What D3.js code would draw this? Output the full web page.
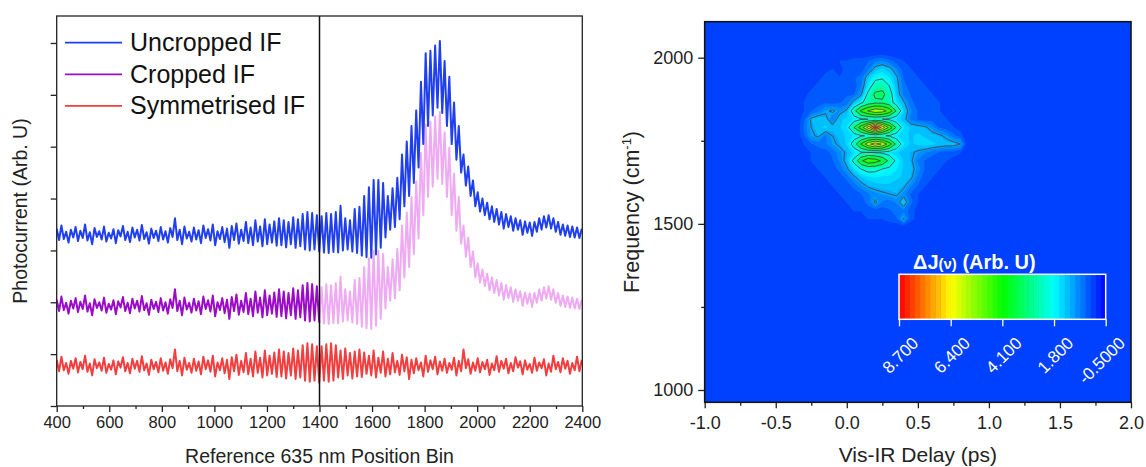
<!DOCTYPE html>
<html>
<head>
<meta charset="utf-8">
<script src="https://cdn.jsdelivr.net/npm/d3@7"></script>
<style>
    body { margin: 0; background: #fff; }
    svg text { font-family: Arial, "Liberation Sans", sans-serif; }
</style>
</head>
<body>
<svg id="chart" width="1146" height="467"></svg>
<script>
// ---- left panel data: uncropped interferogram, one value every 9 bins from bin 400
let binStart = 400, binStep = 9
let uncropped = [
    3.42, 3.20, 3.48, 3.22, 3.36, 3.15, 3.40, 3.25, 3.45, 3.18,
    3.38, 3.24, 3.50, 3.19, 3.35, 3.12, 3.43, 3.26, 3.37, 3.21,
    3.46, 3.17, 3.34, 3.23, 3.41, 3.14, 3.39, 3.27, 3.47, 3.20,
    3.36, 3.16, 3.44, 3.25, 3.40, 3.19, 3.49, 3.22, 3.35, 3.13,
    3.42, 3.24, 3.38, 3.18, 3.45, 3.21, 3.37, 3.15, 3.43, 3.26,
    3.62, 3.20, 3.40, 3.12, 3.46, 3.23, 3.36, 3.17, 3.44, 3.21,
    3.39, 3.14, 3.48, 3.24, 3.41, 3.19, 3.50, 3.10, 3.37, 3.22,
    3.45, 3.16, 3.42, 3.05, 3.47, 3.20, 3.52, 3.13, 3.40, 3.18,
    3.55, 3.14, 3.44, 3.10, 3.58, 3.17, 3.46, 3.08, 3.60, 3.12,
    3.50, 3.15, 3.56, 3.09, 3.62,
    3.10, 3.58, 3.06, 3.55, 3.12, 3.64, 3.05, 3.60, 3.08, 3.70, 3.02, 3.74, 3.00, 3.72, 3.02, 3.68,
    2.98,
    3.66, 2.96, 3.72, 2.95, 3.70, 2.97, 3.74, 2.96, 3.86, 3.00, 3.62, 3.02, 3.58, 2.98, 3.80, 2.95, 3.84,
    2.90, 4.05, 2.87, 4.22, 2.86, 4.36, 2.92, 4.36, 3.05, 4.30, 3.25, 4.05, 3.40,
    4.20, 3.45, 4.40, 3.60, 4.85, 3.85, 5.10, 4.05, 5.40, 4.30,
    5.70, 4.60, 6.25, 5.05, 6.80, 5.40, 6.85, 5.60, 6.95, 5.75,
    7.04, 5.65, 6.65, 5.40, 6.35, 5.05, 5.85, 4.75, 5.40, 4.50,
    4.85, 4.25, 4.62, 4.05, 4.35, 3.85, 4.12,
    3.75, 4.00, 3.68, 3.92, 3.60, 3.85, 3.55, 3.80, 3.50, 3.74,
    3.42, 3.70, 3.45, 3.66, 3.38, 3.62, 3.40, 3.58, 3.30, 3.56,
    3.34, 3.54, 3.28, 3.55, 3.36, 3.62, 3.40, 3.66, 3.44, 3.68,
    3.42, 3.62, 3.36, 3.55, 3.30, 3.50, 3.28, 3.48, 3.26, 3.46,
    3.25, 3.44, 3.24, 3.42
]
let cropBin = 1400
let cropOffset = 1.37     // vertical offset of the cropped trace
let symOffset = 2.53      // vertical offset of the symmetrised trace
let legendNames = ['Uncropped IF', 'Cropped IF', 'Symmetrised IF']
let legendColors = ['#1f3ff0', '#9a0cc8', '#f23e3e']
let pinkColor = '#eeaaf2'
let binTicks = [400, 600, 800, 1000, 1200, 1400, 1600, 1800, 2000, 2200, 2400]
let binMinor = [500, 700, 900, 1100, 1300, 1500, 1700, 1900, 2100, 2300]
let currentTicks = [0, 1, 2, 3, 4, 5, 6, 7]

// ---- right panel data: dJ(delay, frequency), rows top (high freq) to bottom
let delays = [-0.35, -0.30, -0.25, -0.20, -0.15, -0.10, -0.05, 0.00, 0.05, 0.10, 0.15, 0.20, 0.25,
    0.30, 0.35, 0.40, 0.45, 0.50, 0.55, 0.60, 0.65, 0.70, 0.75, 0.80, 0.85]
let freqs = [2015, 1990, 1965, 1940, 1915, 1890, 1865, 1840, 1815, 1790, 1765,
    1740, 1715, 1690, 1665, 1640, 1615, 1590, 1565, 1540, 1515, 1490]
let dJ = [
    [0, 0, 0, 0, 0, 0, 0, 0, 0, 0, 0, 0, 0, 0, 0, 0, 0, 0, 0, 0, 0, 0, 0, 0, 0],
    [0, 0.1, 0.2, 0.1, 0.2, 0.1, 0.2, 0.2, 0.3, 0.3, 0.4, 0.6, 0.7, 0.5, 0.3, 0.2, 0.1, 0.1, 0, 0.1, 0, 0, 0, 0, 0],
    [0, 0.2, 0.1, 0.2, 0.1, 0.2, 0.1, 0.3, 0.2, 0.3, 0.6, 1.2, 1.4, 1.2, 0.7, 0.3, 0.2, 0.1, 0.2, 0.1, 0.1, 0, 0.1, 0, 0],
    [0, 0.1, 0.2, 0.1, 0.3, 0.2, 0.2, 0.3, 0.4, 0.5, 1.3, 1.8, 1.9, 1.6, 1.1, 0.4, 0.3, 0.2, 0.1, 0.2, 0.1, 0.1, 0, 0.1, 0],
    [0, 0.2, 0.1, 0.3, 0.2, 0.3, 0.2, 0.4, 0.3, 0.6, 1.6, 2.4, 2.6, 2.0, 1.2, 0.5, 0.3, 0.2, 0.2, 0.1, 0.2, 0.1, 0.1, 0, 0],
    [0, 0.1, 0.3, 0.2, 0.3, 0.2, 0.3, 0.4, 0.4, 0.9, 2.2, 3.2, 3.3, 2.4, 1.3, 0.6, 0.4, 0.3, 0.2, 0.2, 0.1, 0.2, 0.1, 0.1, 0],
    [0, 0.2, 0.2, 0.3, 0.4, 0.3, 0.4, 0.5, 1.2, 1.8, 2.5, 2.8, 2.8, 2.4, 1.6, 1.1, 0.5, 0.3, 0.3, 0.2, 0.2, 0.1, 0.1, 0, 0],
    [0, 0.2, 0.4, 0.6, 0.9, 1.1, 0.8, 1.1, 2.6, 4.2, 5.1, 5.7, 5.5, 4.6, 2.9, 1.4, 0.7, 0.4, 0.3, 0.2, 0.2, 0.1, 0.2, 0.1, 0],
    [0, 0.4, 1.1, 1.3, 1.2, 0.6, 1.3, 1.4, 1.6, 1.9, 2.0, 2.1, 2.0, 1.8, 1.5, 1.2, 0.6, 0.4, 0.3, 0.3, 0.2, 0.2, 0.1, 0.1, 0],
    [0, 0.5, 1.0, 1.3, 1.4, 1.2, 1.3, 1.6, 3.0, 4.5, 6.4, 8.7, 6.7, 4.7, 2.8, 1.6, 1.3, 1.2, 1.1, 0.8, 0.4, 0.3, 0.2, 0.1, 0],
    [0, 0.4, 0.9, 1.1, 0.6, 1.0, 1.2, 1.4, 1.6, 1.9, 2.1, 2.2, 2.1, 1.9, 1.6, 1.4, 1.3, 1.4, 1.3, 1.2, 1.1, 0.9, 0.5, 0.3, 0],
    [0, 0.2, 0.4, 0.5, 0.6, 0.9, 1.1, 1.4, 2.4, 4.1, 5.7, 6.6, 5.9, 4.5, 2.7, 1.6, 1.3, 1.4, 1.5, 1.4, 1.3, 1.2, 1.2, 1.0, 0],
    [0, 0.1, 0.2, 0.3, 0.3, 0.5, 0.8, 1.1, 1.5, 1.9, 2.0, 1.9, 1.8, 1.6, 1.4, 1.2, 1.1, 0.9, 0.7, 0.5, 0.4, 0.3, 0.3, 0.2, 0],
    [0, 0.1, 0.2, 0.2, 0.3, 0.4, 0.7, 1.2, 2.2, 3.8, 4.7, 4.5, 3.8, 2.7, 1.8, 1.3, 1.1, 0.6, 0.4, 0.3, 0.2, 0.2, 0.1, 0.1, 0],
    [0, 0.1, 0.1, 0.2, 0.2, 0.3, 0.5, 0.9, 1.5, 2.0, 2.3, 2.2, 2.0, 1.8, 1.6, 1.3, 1.2, 0.8, 0.4, 0.3, 0.2, 0.1, 0.1, 0, 0],
    [0, 0, 0.1, 0.1, 0.2, 0.2, 0.3, 0.5, 0.9, 1.3, 1.5, 1.6, 1.5, 1.5, 1.4, 1.3, 1.1, 0.6, 0.3, 0.2, 0.1, 0.1, 0, 0, 0],
    [0, 0, 0.1, 0.1, 0.1, 0.2, 0.2, 0.3, 0.5, 0.8, 1.1, 1.2, 1.3, 1.3, 1.2, 1.1, 0.7, 0.4, 0.2, 0.1, 0.1, 0, 0, 0, 0],
    [0, 0, 0, 0.1, 0.1, 0.1, 0.2, 0.2, 0.3, 0.4, 0.6, 0.8, 0.9, 1.0, 1.1, 0.8, 0.4, 0.2, 0.1, 0.1, 0, 0, 0, 0, 0],
    [0, 0, 0, 0, 0.1, 0.1, 0.1, 0.2, 0.2, 0.3, 0.5, 1.1, 0.6, 0.5, 0.7, 1.4, 0.5, 0.2, 0.1, 0, 0, 0, 0, 0, 0],
    [0, 0, 0, 0, 0, 0.1, 0.1, 0.1, 0.2, 0.2, 0.3, 0.3, 0.3, 0.4, 0.5, 0.6, 0.3, 0.1, 0, 0, 0, 0, 0, 0, 0],
    [0, 0, 0, 0, 0, 0, 0, 0.1, 0.1, 0.1, 0.2, 0.2, 0.2, 0.3, 0.4, 1.05, 0.3, 0.1, 0, 0, 0, 0, 0, 0, 0],
    [0, 0, 0, 0, 0, 0, 0, 0, 0, 0, 0, 0, 0, 0, 0, 0, 0, 0, 0, 0, 0, 0, 0, 0, 0]
]
let cbarStops = [8.7, 6.4, 4.1, 1.8, -0.5]
let cbarColors = ['#ff0000', '#ffff00', '#00ff00', '#00ffff', '#0000ff']
let cbarLabels = ['8.700', '6.400', '4.100', '1.800', '-0.5000']
let nLevels = 40
let lineLevels = [1, 2, 3, 4, 5, 6, 7, 8]
let delayTicks = [-1.0, -0.5, 0.0, 0.5, 1.0, 1.5, 2.0]
let delayMinor = [-0.75, -0.25, 0.25, 0.75, 1.25, 1.75]
let freqTicks = [1000, 1500, 2000]
let freqMinor = [1250, 1750]

function main() {
    let svg = d3.select('#chart')

    // ================= left panel =================
    let L = {left: 56.7, right: 582.3, top: 16, bottom: 406}
    let xL = d3.scaleLinear().domain([400, 2400]).range([L.left, L.right])
    let yL = d3.scaleLinear().domain([0, 7.52]).range([L.bottom, L.top])

    svg.append('clipPath').attr('id', 'clipL')
        .append('rect')
        .attr('x', L.left).attr('y', L.top)
        .attr('width', L.right - L.left).attr('height', L.bottom - L.top)

    let pts = uncropped.map((v, i) => ({bin: binStart + binStep * i, v: v}))
    let mid = d3.max(pts.filter(p => p.bin <= cropBin), p => pts.indexOf(p))

    let blue = pts
    let purple = pts.filter((p, i) => i <= mid).map(p => ({bin: p.bin, v: p.v - cropOffset}))
    let pink = pts.filter((p, i) => i >= mid).map(p => ({bin: p.bin, v: p.v - cropOffset}))
    let red = pts.map((p, i) => ({bin: p.bin, v: pts[i <= mid ? i : 2 * mid - i].v - symOffset}))

    let line = d3.line().x(d => xL(d.bin)).y(d => yL(d.v))
    let gL = svg.append('g').attr('clip-path', 'url(#clipL)')
    let series = [
        [pink, pinkColor],
        [blue, legendColors[0]],
        [purple, legendColors[1]],
        [red, legendColors[2]]
    ]
    series.forEach(s => {
        gL.append('path')
            .attr('d', line(s[0]))
            .attr('fill', 'none')
            .attr('stroke', s[1])
            .attr('stroke-width', 2)
            .attr('stroke-linejoin', 'round')
    })

    // crop marker
    svg.append('line')
        .attr('x1', xL(cropBin)).attr('x2', xL(cropBin))
        .attr('y1', L.top).attr('y2', L.bottom)
        .attr('stroke', '#111').attr('stroke-width', 1.5)

    // axes
    let axB = svg.append('g')
        .attr('transform', 'translate(0,' + L.bottom + ')')
        .call(d3.axisBottom(xL).tickValues(binTicks).tickSize(6).tickPadding(4).tickFormat(d3.format('d')))
    axB.selectAll('text').attr('font-size', 16.5).attr('fill', '#222')
    let axBm = svg.append('g')
        .attr('transform', 'translate(0,' + L.bottom + ')')
        .call(d3.axisBottom(xL).tickValues(binMinor).tickSize(3).tickFormat(''))
    let axLft = svg.append('g')
        .attr('transform', 'translate(' + L.left + ',0)')
        .call(d3.axisLeft(yL).tickValues(currentTicks).tickSize(6).tickFormat(''))
    ;[axB, axBm, axLft].forEach(a => {
        a.select('.domain').remove()
        a.selectAll('line').attr('stroke', '#222').attr('stroke-width', 1.3)
    })
    svg.append('rect')
        .attr('x', L.left).attr('y', L.top)
        .attr('width', L.right - L.left).attr('height', L.bottom - L.top)
        .attr('fill', 'none').attr('stroke', '#222').attr('stroke-width', 1.3)

    svg.append('text')
        .attr('x', (L.left + L.right) / 2).attr('y', 463)
        .attr('text-anchor', 'middle').attr('font-size', 19.5).attr('fill', '#222')
        .text('Reference 635 nm Position Bin')
    svg.append('text')
        .attr('transform', 'translate(27,' + (L.top + L.bottom) / 2 + ') rotate(-90)')
        .attr('text-anchor', 'middle').attr('font-size', 19.5).attr('fill', '#222')
        .text('Photocurrent (Arb. U)')

    // legend
    legendNames.forEach((name, i) => {
        let y = 42.7 + i * 31.6
        svg.append('line')
            .attr('x1', 65).attr('x2', 122).attr('y1', y).attr('y2', y)
            .attr('stroke', legendColors[i]).attr('stroke-width', 1.8)
        svg.append('text')
            .attr('x', 130).attr('y', y + 8.5)
            .attr('font-size', 25).attr('fill', '#111')
            .text(name)
    })

    // ================= right panel =================
    let R = {left: 704.7, right: 1131, top: 21.7, bottom: 402.3}
    let xR = d3.scaleLinear().domain([-1, 2]).range([R.left, R.right])
    let yR = d3.scaleLinear().domain([1000, 2000]).range([390, 57.7])
    let color = d3.scaleLinear().domain(cbarStops).range(cbarColors)
    let lo = d3.min(cbarStops), hi = d3.max(cbarStops)
    let step = (hi - lo) / nLevels
    let thresholds = d3.range(nLevels).map(k => lo + k * step)
    let bandColor = t => color(t + step / 2)

    svg.append('clipPath').attr('id', 'clipR')
        .append('rect')
        .attr('x', R.left).attr('y', R.top)
        .attr('width', R.right - R.left).attr('height', R.bottom - R.top)
    let gR = svg.append('g').attr('clip-path', 'url(#clipR)')

    // the band holding zero is the plain background
    let bgLevel = thresholds.filter(t => t <= 0).pop()
    gR.append('rect')
        .attr('x', R.left).attr('y', R.top)
        .attr('width', R.right - R.left).attr('height', R.bottom - R.top)
        .attr('fill', bandColor(bgLevel))

    let nx = delays.length, ny = freqs.length
    let values = dJ.flat()
    let dStep = delays[1] - delays[0], fStep = freqs[1] - freqs[0]
    let proj = d3.geoTransform({
        point: function (x, y) {
            this.stream.point(xR(delays[0] + (x - 0.5) * dStep), yR(freqs[0] + (y - 0.5) * fStep))
        }
    })
    let path = d3.geoPath(proj)

    let bands = d3.contours().size([nx, ny]).thresholds(thresholds.filter(t => t > bgLevel))(values)
    gR.selectAll('path.band')
        .data(bands)
        .enter()
        .append('path')
        .attr('class', 'band')
        .attr('d', path)
        .attr('fill', d => bandColor(d.value))

    let isolines = d3.contours().size([nx, ny]).thresholds(lineLevels)(values)
    gR.selectAll('path.iso')
        .data(isolines)
        .enter()
        .append('path')
        .attr('class', 'iso')
        .attr('d', path)
        .attr('fill', 'none')
        .attr('stroke', '#4a4a4a')
        .attr('stroke-width', 0.9)

    // colour bar
    let cb = {x0: 899, x1: 1105.7, y0: 274.3, y1: 319.3}
    let xC = d3.scaleLinear().domain([hi, lo]).range([cb.x0, cb.x1])
    svg.selectAll('rect.cbar')
        .data(thresholds)
        .enter()
        .append('rect')
        .attr('class', 'cbar')
        .attr('x', d => xC(d + step))
        .attr('y', cb.y0)
        .attr('width', d => xC(d) - xC(d + step) + 0.5)
        .attr('height', cb.y1 - cb.y0)
        .attr('fill', d => bandColor(d))
    svg.append('rect')
        .attr('x', cb.x0).attr('y', cb.y0)
        .attr('width', cb.x1 - cb.x0).attr('height', cb.y1 - cb.y0)
        .attr('fill', 'none').attr('stroke', '#fff').attr('stroke-width', 1.5)
    let axC = svg.append('g')
        .attr('transform', 'translate(0,' + cb.y1 + ')')
        .call(d3.axisBottom(xC).tickValues(cbarStops).tickSize(7).tickFormat((d, i) => cbarLabels[i]))
    axC.select('.domain').remove()
    axC.selectAll('line').attr('stroke', '#fff').attr('stroke-width', 1.3)
    axC.selectAll('text')
        .attr('fill', '#fff').attr('font-size', 17)
        .attr('text-anchor', 'end')
        .attr('y', 0).attr('dy', 0)
        .attr('transform', 'translate(20,25) rotate(-45)')

    let title = svg.append('text')
        .attr('x', 913).attr('y', 269)
        .attr('fill', '#fff').attr('font-weight', 'bold').attr('font-size', 20)
    title.append('tspan').text('ΔJ')
    title.append('tspan').attr('font-size', 15).text('(ν)')
    title.append('tspan').text(' (Arb. U)')

    // axes
    let axX = svg.append('g')
        .attr('transform', 'translate(0,' + R.bottom + ')')
        .call(d3.axisBottom(xR).tickValues(delayTicks).tickSize(6).tickPadding(8).tickFormat(d => d.toFixed(1)))
    axX.selectAll('text').attr('font-size', 18).attr('fill', '#222')
    let axXm = svg.append('g')
        .attr('transform', 'translate(0,' + R.bottom + ')')
        .call(d3.axisBottom(xR).tickValues(delayMinor).tickSize(3.5).tickFormat(''))
    let axY = svg.append('g')
        .attr('transform', 'translate(' + R.left + ',0)')
        .call(d3.axisLeft(yR).tickValues(freqTicks).tickSize(6.5).tickPadding(5).tickFormat(d3.format('d')))
    axY.selectAll('text').attr('font-size', 18).attr('fill', '#222')
    let axYm = svg.append('g')
        .attr('transform', 'translate(' + R.left + ',0)')
        .call(d3.axisLeft(yR).tickValues(freqMinor).tickSize(3.5).tickFormat(''))
    ;[axX, axXm, axY, axYm].forEach(a => {
        a.select('.domain').remove()
        a.selectAll('line').attr('stroke', '#222').attr('stroke-width', 1.3)
    })
    svg.append('rect')
        .attr('x', R.left).attr('y', R.top)
        .attr('width', R.right - R.left).attr('height', R.bottom - R.top)
        .attr('fill', 'none').attr('stroke', '#141414').attr('stroke-width', 1.6)

    svg.append('text')
        .attr('x', (R.left + R.right) / 2).attr('y', 462)
        .attr('text-anchor', 'middle').attr('font-size', 21).attr('fill', '#222')
        .text('Vis-IR Delay (ps)')
    let fl = svg.append('text')
        .attr('transform', 'translate(639,' + (R.top + R.bottom) / 2 + ') rotate(-90)')
        .attr('text-anchor', 'middle').attr('font-size', 21.5).attr('fill', '#222')
    fl.append('tspan').text('Frequency (cm')
    fl.append('tspan').attr('font-size', 13).attr('dy', -8).text('-1')
    fl.append('tspan').attr('dy', 8).text(')')
}

main()
</script>
</body>
</html>
